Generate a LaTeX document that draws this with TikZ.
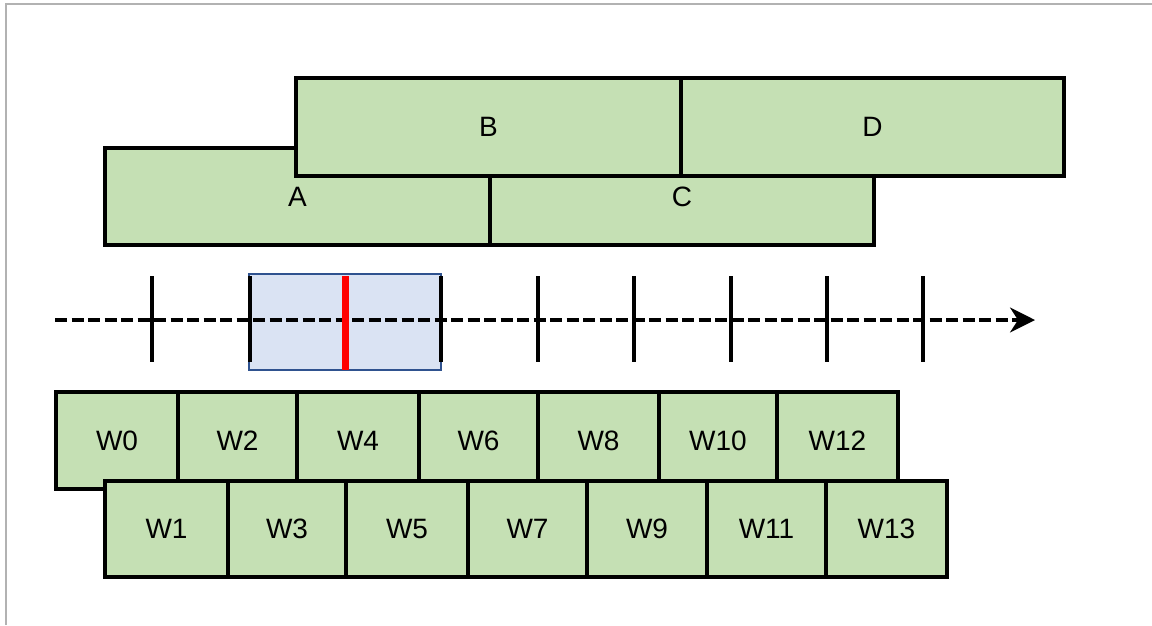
\documentclass[tikz,border=0pt]{standalone}
\usepackage{fontspec}
\setmainfont{Liberation Sans}
\usetikzlibrary{arrows.meta}
\definecolor{gfill}{HTML}{C5E0B4}
\definecolor{bfill}{HTML}{DAE3F3}
\definecolor{bdraw}{HTML}{2F528F}
\definecolor{frame}{RGB}{178,178,178}
\tikzset{
  gbox/.style={draw=black, fill=gfill, line width=3.2pt, inner sep=0pt, font=\fontsize{28}{32}\selectfont},
  cellA/.style={gbox, minimum height=97pt},
  cellB/.style={gbox, minimum height=96pt},
  tick/.style={draw=black, line width=3.5pt},
  dashline/.style={draw=black, line width=3.2pt, dash pattern=on 12pt off 4.5pt, -{Stealth[length=25pt,width=25pt,inset=8pt]}},
  winbox/.style={draw=bdraw, fill=bfill, line width=1.6pt, inner sep=0pt},
  redline/.style={draw=red, line width=7pt},
}
\begin{document}
\begin{tikzpicture}[x=1pt,y=-1pt]
\useasboundingbox (0,0) rectangle (1152,625);
% frame
\draw[frame, line width=2pt] (6,625) -- (6,4) -- (1152,4);
% top blocks
\node[gbox, minimum width=385pt, minimum height=97pt] (A) at (297.5,196.5) {A};
\node[gbox, minimum width=384pt, minimum height=97pt] (C) at (682,196.5) {C};
\node[gbox, minimum width=385pt, minimum height=98pt] (B) at (488.5,127) {B};
\node[gbox, minimum width=383pt, minimum height=98pt] (D) at (872.5,127) {D};
% timeline window
\node[winbox, minimum width=192pt, minimum height=96pt] (win) at (345,322) {};
\coordinate (ls) at (55,320);
\coordinate (le) at (1035,320);
\draw[dashline] (ls) -- (le);
\foreach \x in {152,250,441,538,634,731,827,923} {
  \draw[tick] (\x,276) -- (\x,362);
}
\draw[redline] (345,276) -- (345,370);
% W row 1
\foreach \l/\r/\t in {56/178/W0,178/297/W2,297/419/W4,419/538/W6,538/659/W8,659/777/W10,777/898/W12} {
  \node[cellA, minimum width=\r pt-\l pt] (\t) at ({(\l+\r)/2},440.5) {\t};
}
% W row 2
\foreach \l/\r/\t in {105/228/W1,228/346/W3,346/468/W5,468/587/W7,587/707/W9,707/826/W11,826/947/W13} {
  \node[cellB, minimum width=\r pt-\l pt] (\t) at ({(\l+\r)/2},529) {\t};
}
\end{tikzpicture}
\end{document}
